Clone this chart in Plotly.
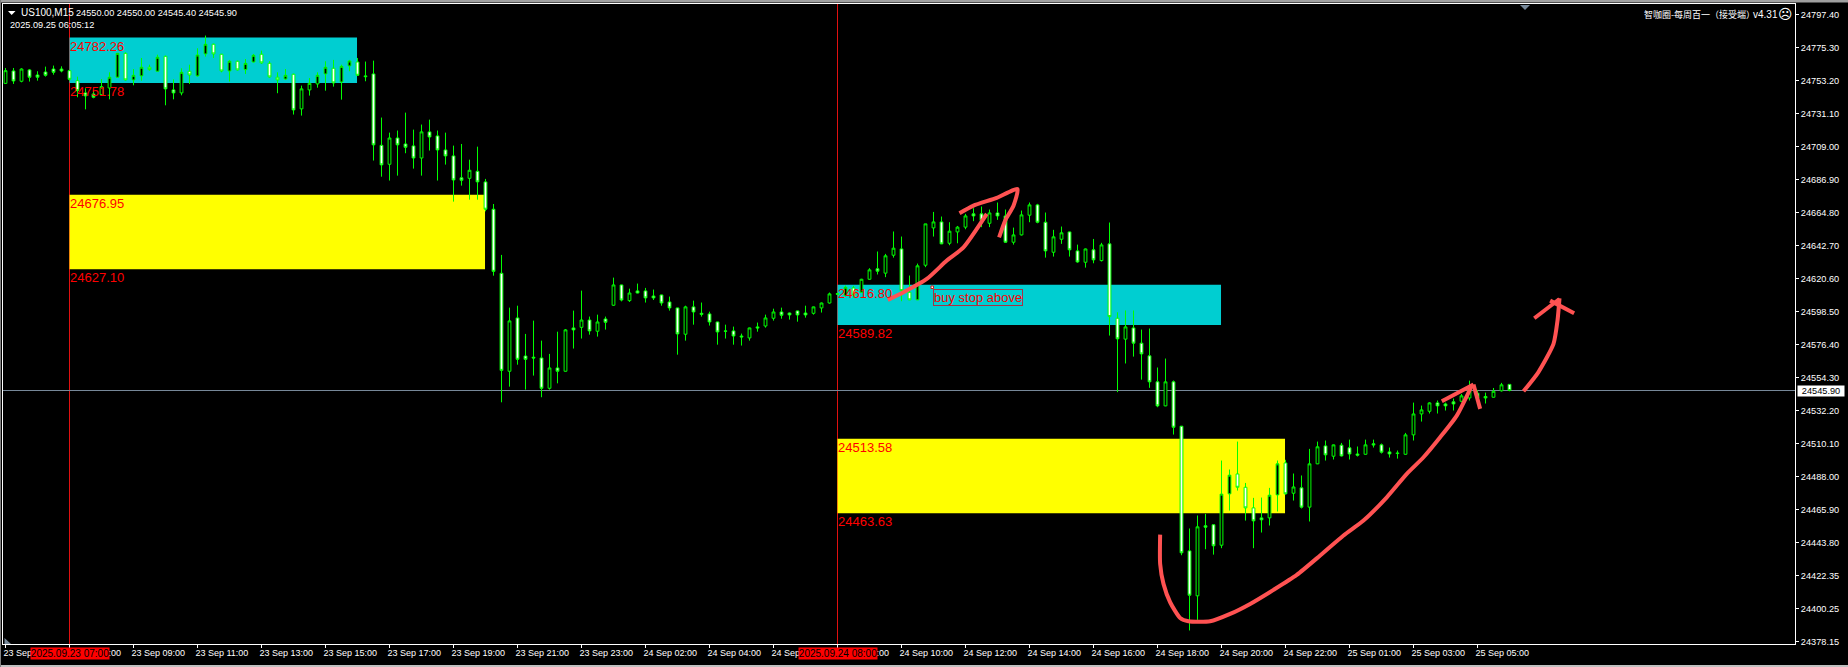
import plotly.graph_objects as go

open_prices = [
24751.6,24759.9,24753.0,24760.6,24757.2,24759.2,24761.2,24761.2,24760.1,24753.4,
24745.2,24744.5,24744.1,24748.5,24755.7,24771.7,24753.9,24756.6,24762.4,24759.7,
24769.7,24747.2,24745.2,24759.7,24756.6,24771.3,24777.8,24771.1,24759.9,24766.4,
24760.8,24765.9,24771.1,24765.0,24755.7,24754.5,24757.7,24734.5,24747.2,24751.2,
24757.9,24761.7,24752.5,24763.3,24765.9,24756.6,24757.9,24710.1,24697.4,24715.0,
24711.0,24709.7,24701.6,24719.1,24716.4,24707.0,24703.0,24688.3,24688.0,24692.7,
24685.6,24667.3,24624.4,24558.8,24594.5,24569.0,24568.2,24567.7,24547.4,24561.0,
24558.8,24587.8,24588.2,24593.1,24585.6,24593.8,24603.0,24616.6,24606.1,24612.6,
24612.6,24609.2,24609.9,24605.2,24601.2,24583.6,24601.9,24597.6,24597.2,24591.8,
24585.8,24585.8,24582.4,24581.1,24588.5,24589.1,24594.3,24598.5,24597.8,24599.2,
24597.8,24597.6,24601.2,24604.5,24610.8,24609.5,24614.6,24611.7,24620.4,24627.4,
24624.5,24636.5,24640.7,24611.7,24606.6,24629.8,24654.8,24658.8,24644.5,24652.1,
24655.3,24664.2,24664.2,24657.9,24664.8,24662.8,24645.2,24650.1,24663.3,24670.2,
24658.6,24638.5,24647.2,24652.1,24639.4,24631.8,24640.1,24632.9,24644.1,24594.3,
24580.3,24587.8,24577.6,24569.1,24551.7,24535.6,24551.7,24522.0,24438.5,24408.4,
24455.3,24456.0,24442.3,24476.7,24490.0,24481.1,24467.3,24460.6,24460.6,24476.0,
24497.4,24477.1,24480.7,24467.8,24496.8,24508.8,24501.9,24509.3,24507.5,24503.4,
24503.2,24510.2,24509.5,24504.8,24504.1,24503.2,24516.2,24530.2,24532.0,24537.6,
24536.9,24538.3,24538.7,24540.9,24544.1,24541.9,24541.4,24545.7,24550.0]

high_prices = [
24761.9,24761.9,24761.7,24761.2,24759.7,24762.8,24763.5,24763.0,24760.8,24756.1,
24748.3,24747.2,24754.5,24759.0,24771.7,24772.4,24761.2,24768.6,24764.1,24770.8,
24770.2,24754.3,24761.7,24764.1,24775.1,24783.6,24778.2,24771.3,24767.3,24766.8,
24767.9,24771.3,24773.5,24766.4,24759.0,24761.2,24758.1,24750.1,24755.2,24759.0,
24766.4,24767.3,24764.1,24767.3,24768.6,24766.2,24766.8,24728.7,24718.6,24720.0,
24732.0,24720.6,24724.0,24727.3,24720.0,24718.6,24709.9,24711.0,24700.5,24709.2,
24687.6,24670.8,24636.7,24601.4,24602.7,24583.8,24592.7,24579.3,24570.4,24585.3,
24587.1,24599.4,24612.8,24595.4,24596.7,24595.4,24621.5,24616.8,24614.1,24617.5,
24614.6,24613.5,24610.1,24608.8,24601.4,24602.7,24606.1,24604.8,24598.7,24592.0,
24590.0,24588.7,24584.0,24588.0,24591.4,24596.7,24600.7,24601.4,24598.1,24599.4,
24602.7,24602.1,24604.8,24611.5,24611.5,24616.2,24616.0,24620.7,24627.8,24639.0,
24637.4,24652.4,24649.0,24622.9,24630.9,24657.5,24665.5,24662.4,24658.6,24656.1,
24664.2,24668.0,24669.1,24667.1,24671.8,24667.1,24655.0,24666.4,24671.8,24670.9,
24665.1,24653.5,24655.7,24652.4,24643.6,24641.0,24647.4,24644.8,24658.4,24598.3,
24599.5,24599.5,24586.7,24587.4,24561.3,24567.3,24552.6,24522.2,24453.5,24462.2,
24463.3,24456.2,24499.0,24493.0,24511.7,24484.0,24474.0,24474.2,24480.7,24499.0,
24499.5,24490.3,24489.0,24506.8,24511.7,24512.4,24509.7,24510.8,24513.0,24508.4,
24513.0,24513.0,24510.4,24507.7,24505.7,24517.5,24537.8,24535.8,24538.0,24539.2,
24537.8,24540.5,24543.6,24552.5,24546.3,24544.5,24547.6,24551.0,24550.0]

low_prices = [
24751.2,24751.2,24752.3,24752.8,24753.4,24756.1,24757.4,24759.0,24753.4,24742.3,
24734.2,24741.6,24743.4,24740.9,24755.2,24753.4,24750.3,24753.4,24760.1,24759.5,
24736.9,24740.9,24743.6,24751.2,24756.1,24769.5,24768.6,24759.0,24752.8,24760.1,
24757.9,24765.5,24764.6,24755.4,24745.0,24753.9,24730.7,24730.0,24743.4,24748.7,
24746.7,24749.4,24740.7,24759.7,24756.6,24753.0,24699.9,24689.1,24686.5,24689.8,
24704.8,24694.5,24689.8,24706.6,24686.5,24697.2,24672.4,24683.1,24673.7,24673.7,
24665.9,24622.8,24538.0,24548.5,24563.2,24546.5,24555.9,24541.4,24546.5,24550.7,
24558.6,24574.0,24580.7,24583.3,24582.0,24586.7,24602.7,24605.6,24605.2,24611.0,
24604.8,24606.5,24602.7,24599.4,24569.9,24579.3,24590.0,24595.4,24589.4,24576.6,
24580.7,24576.6,24576.0,24579.3,24585.3,24588.0,24592.7,24594.0,24593.4,24592.0,
24594.7,24596.7,24598.1,24604.1,24609.9,24608.8,24607.9,24611.3,24620.0,24623.6,
24621.8,24634.9,24605.7,24606.4,24606.4,24628.5,24649.0,24643.9,24643.2,24644.5,
24653.9,24659.3,24655.3,24655.3,24660.2,24644.8,24643.6,24649.7,24658.6,24657.9,
24634.9,24635.6,24644.1,24635.6,24631.4,24628.2,24631.1,24632.3,24582.7,24544.8,
24564.0,24568.6,24553.2,24547.7,24534.7,24535.4,24516.4,24435.6,24385.2,24392.3,
24439.6,24436.0,24440.3,24465.5,24478.9,24458.8,24440.3,24450.8,24455.5,24464.9,
24476.2,24472.2,24466.9,24458.2,24496.6,24499.0,24499.7,24501.7,24499.7,24501.7,
24503.0,24507.7,24503.7,24501.0,24500.3,24503.0,24512.4,24525.1,24530.5,24530.5,
24532.5,24532.5,24538.0,24539.2,24540.3,24537.2,24541.2,24545.2,24545.4]

close_prices = [
24760.1,24753.2,24761.2,24755.7,24755.7,24757.0,24759.0,24759.9,24754.3,24746.7,
24743.2,24742.3,24749.4,24755.7,24771.7,24753.9,24757.0,24762.4,24760.8,24769.1,
24747.9,24745.2,24759.0,24757.2,24770.6,24777.8,24771.3,24759.9,24766.4,24760.6,
24765.0,24770.4,24765.3,24755.9,24753.9,24757.0,24733.8,24747.9,24751.6,24757.0,
24762.4,24751.9,24763.0,24766.6,24757.0,24756.1,24710.4,24697.0,24715.0,24710.4,
24708.8,24701.6,24719.1,24715.7,24707.0,24703.0,24686.9,24686.7,24693.4,24685.6,
24667.3,24625.7,24559.4,24592.5,24566.8,24566.8,24567.7,24547.4,24561.0,24558.8,
24586.5,24586.5,24593.1,24585.8,24591.8,24591.6,24616.6,24606.5,24611.2,24611.2,
24607.9,24607.9,24604.5,24601.2,24583.8,24601.9,24598.5,24596.9,24591.8,24585.1,
24585.6,24582.4,24581.8,24587.8,24587.8,24594.5,24598.5,24596.3,24596.5,24596.5,
24596.5,24601.9,24604.5,24610.6,24610.4,24615.1,24609.7,24620.4,24626.7,24625.8,
24636.1,24641.2,24612.8,24606.6,24629.4,24657.5,24658.8,24644.1,24652.6,24655.3,
24662.8,24662.8,24659.7,24664.8,24662.8,24645.2,24650.1,24663.5,24670.2,24658.6,
24639.4,24648.8,24651.5,24640.1,24632.0,24640.7,24633.4,24643.4,24595.4,24580.5,
24588.5,24577.6,24570.4,24551.7,24535.6,24551.7,24521.3,24437.2,24408.8,24454.6,
24454.4,24441.9,24476.5,24489.2,24481.1,24467.3,24458.6,24459.3,24475.8,24496.8,
24476.7,24481.3,24467.8,24496.8,24508.2,24502.8,24509.5,24502.1,24503.4,24502.6,
24509.5,24509.5,24504.6,24503.4,24503.7,24516.2,24530.2,24532.9,24537.6,24535.6,
24535.6,24536.9,24542.3,24547.6,24540.9,24540.9,24545.4,24549.7,24545.9]

x_tick_bars = [0,8,16,24,32,40,48,56,64,72,80,88,96,104,112,120,128,136,144,152,160,168,176,184]
x_tick_labels = ["23 Sep 05:00","23 Sep 07:00","23 Sep 09:00","23 Sep 11:00","23 Sep 13:00","23 Sep 15:00",
    "23 Sep 17:00","23 Sep 19:00","23 Sep 21:00","23 Sep 23:00","24 Sep 02:00","24 Sep 04:00","24 Sep 06:00",
    "24 Sep 08:00","24 Sep 10:00","24 Sep 12:00","24 Sep 14:00","24 Sep 16:00","24 Sep 18:00","24 Sep 20:00",
    "24 Sep 22:00","25 Sep 01:00","25 Sep 03:00","25 Sep 05:00"]
y_tick_values = [24797.4,24775.3,24753.2,24731.1,24709.0,24686.9,24664.8,24642.7,24620.6,24598.5,
    24576.4,24554.3,24532.2,24510.1,24488.0,24465.9,24443.8,24421.7,24399.6,24377.5]
y_tick_labels = ["24797.40","24775.30","24753.20","24731.10","24709.00","24686.90","24664.80","24642.70",
    "24620.60","24598.50","24576.40","24554.30","24532.20","24510.10","24488.00","24465.90","24443.80",
    "24422.35","24400.25","24378.15"]

zone_start = [8, 8, 104, 104]
zone_end = [43.94, 59.94, 151.94, 159.94]
zone_top = [24782.26, 24676.95, 24616.80, 24513.58]
zone_bottom = [24751.78, 24627.10, 24589.82, 24463.63]
zone_color = ["#00CED1", "#FFFF00", "#00CED1", "#FFFF00"]
zone_top_text = ["24782.26", "24676.95", "24616.80", "24513.58"]
zone_bottom_text = ["24751.78", "24627.10", "24589.82", "24463.63"]

vline_bars = [8, 104]
vline_labels = ["2025.09.23 07:00", "2025.09.24 08:00"]
last_price = 24545.90

strokes = [
    ([110.29,112.25,115.16,117.66,119.75,122.66], [24606.6,24611.7,24620.6,24632.9,24641.8,24664.2]),
    ([119.25,121.0,123.9,126.5,126.0,124.96,124.2], [24664.6,24669.7,24674.9,24680.9,24669.7,24659.7,24648.5]),
    ([144.33,144.33,144.75,145.58,146.83,147.87,150.58,153.08,155.58,158.5,161.41,164.33,167.25,169.75,172.66,175.16,177.25,179.33,181.41,183.29],
     [24449.4,24429.8,24416.4,24404.1,24393.6,24391.4,24391.4,24396.3,24403.0,24412.4,24422.4,24435.4,24448.8,24458.8,24474.4,24490.1,24501.2,24514.6,24529.1,24549.2]),
    ([179.54,183.5], [24538.7,24549.9]),
    ([183.5,184.33], [24549.9,24533.6]),
    ([189.75,191.6,193.5,194.0,194.25], [24545.4,24558.1,24577.1,24592.7,24607.7]),
    ([191.1,194.25], [24594.3,24607.2]),
    ([193.08,196.08], [24606.1,24597.6]),
]

W, H = 1848, 667
L, R, T, B = 3, 1795, 4, 644
BAR0 = 5.5
px = lambda v: (v - L) / (R - L)
py = lambda v: (B - v) / (B - T)
TICK_FONT = "Liberation Sans, Arial, sans-serif"
ARIAL = "Liberation Sans, Arial, sans-serif"
STROKE = "#FF5252"
GREEN = "#00FF00"

fig = go.Figure()
fig.add_trace(go.Candlestick(
    x=list(range(len(open_prices))), open=open_prices, high=high_prices, low=low_prices, close=close_prices,
    increasing=dict(fillcolor="#000000", line=dict(color=GREEN, width=1)),
    decreasing=dict(fillcolor="#FFFFFF", line=dict(color=GREEN, width=1)),
    whiskerwidth=0, hoverinfo="skip", showlegend=False))
for sx, sy in strokes:
    fig.add_trace(go.Scatter(x=sx, y=sy, mode="lines", hoverinfo="skip", showlegend=False,
                             line=dict(color=STROKE, width=4, shape="spline", smoothing=0.6)))

shapes, ann = [], []
for s, e, t, b, c in zip(zone_start, zone_end, zone_top, zone_bottom, zone_color):
    shapes.append(dict(type="rect", xref="x", yref="y", x0=s, x1=e, y0=b, y1=t, fillcolor=c, line_width=0, layer="below"))
for v in vline_bars:
    shapes.append(dict(type="line", xref="x", yref="paper", x0=v, x1=v, y0=0, y1=1, line=dict(color="#E01010", width=1), layer="below"))
shapes.append(dict(type="line", xref="paper", yref="y", x0=0, x1=1, y0=last_price, y1=last_price, line=dict(color="#778899", width=1), layer="below"))
shapes.append(dict(type="rect", xref="paper", yref="paper", x0=px(0), x1=px(W), y0=py(0), y1=py(2.5), fillcolor="#A0A0A0", line_width=0))
shapes.append(dict(type="rect", xref="paper", yref="paper", x0=px(0), x1=px(W), y0=py(665), y1=py(667), fillcolor="#C0C0C0", line_width=0))
shapes.append(dict(type="rect", xref="paper", yref="paper", x0=px(0), x1=px(1), y0=py(0), y1=py(667), fillcolor="#808080", line_width=0))
def tri(a, b, c):
    pts = [a, b, c]
    return "M" + " L".join(f"{px(p[0]):.5f},{py(p[1]):.5f}" for p in pts) + " Z"
shapes.append(dict(type="path", xref="paper", yref="paper", path=tri((1520,5),(1530,5),(1525,10)), fillcolor="#778899", line_width=0))
shapes.append(dict(type="path", xref="paper", yref="paper", path=tri((4.5,638),(4.5,644),(11,644)), fillcolor="#778899", line_width=0))
shapes.append(dict(type="path", xref="paper", yref="paper", path=tri((8,11),(15.5,11),(11.7,15)), fillcolor="#FFFFFF", line_width=0))
shapes.append(dict(type="rect", xref="paper", yref="paper", x0=px(931), x1=px(933.5), y0=py(288.5), y1=py(286), fillcolor="#FFFFFF", line=dict(color="#E01010", width=1)))

for s, t, b, tt, bt in zip(zone_start, zone_top, zone_bottom, zone_top_text, zone_bottom_text):
    for val, txt in ((t, tt), (b, bt)):
        ann.append(dict(xref="x", yref="y", x=s, y=val, text=txt, showarrow=False, xanchor="left", yanchor="top",
                        font=dict(family=ARIAL, size=13, color="#FF0000"), borderpad=0, xshift=-1, yshift=0))
ann.append(dict(xref="x", yref="y", x=116, y=24614.2, text="buy stop above", showarrow=False, xanchor="left", yanchor="top",
                font=dict(family=ARIAL, size=13, color="#FF0000"), bordercolor="#A83244", borderwidth=1, borderpad=0, xshift=-1))
for v, t in zip(vline_bars, vline_labels):
    ann.append(dict(xref="x", yref="paper", x=v, y=py(653.5), text=t, showarrow=False, xanchor="center", yanchor="middle",
                    font=dict(family=TICK_FONT, size=10, color="#000000"), bgcolor="#FF0000", width=78, height=11, borderpad=0, align="center"))
def label(x, y, text, anchor="left", size=9.2, family=TICK_FONT, color="#FFFFFF", **kw):
    ann.append(dict(xref="paper", yref="paper", x=px(x), y=py(y), text=text, showarrow=False, xanchor=anchor, yanchor="middle",
                    font=dict(family=family, size=size, color=color), borderpad=0, **kw))
label(20, 12.5, "US100,M15", size=10)
label(75, 12.5, "24550.00 24550.00 24545.40 24545.90")
label(9, 25.5, "2025.09.25 06:05:12")
label(1643, 14, "智咖圈-每周百一（接受端）", size=9, family="Noto Sans CJK SC")
label(1752, 14, "v4.31", size=10)
label(1785, 14, "☹", anchor="center", size=14, family="DejaVu Sans")
ann.append(dict(xref="paper", yref="y", x=px(1797), y=last_price, text="24545.90", showarrow=False, xanchor="left", yanchor="middle",
                font=dict(family=TICK_FONT, size=9.2, color="#000000"), bgcolor="#FFFFFF", width=46, height=10, borderpad=0, align="center"))

fig.update_layout(
    width=W, height=H, margin=dict(l=L, r=W - R, t=T, b=H - B, pad=0),
    paper_bgcolor="#000000", plot_bgcolor="#000000", showlegend=False, boxgap=0.5, dragmode=False,
    shapes=shapes, annotations=ann,
    xaxis=dict(range=[(L - BAR0) / 8, (R - BAR0) / 8], rangeslider=dict(visible=False), showgrid=False, zeroline=False,
               tickmode="array", tickvals=x_tick_bars, ticktext=x_tick_labels, ticks="outside", ticklen=3, tickcolor="#FFFFFF",
               showline=True, mirror=True, linecolor="#FFFFFF", linewidth=1, ticklabelposition="outside right", ticklabelshift=-3,
               tickangle=0, tickfont=dict(family=TICK_FONT, size=9, color="#FFFFFF")),
    yaxis=dict(range=[24376.14, 24804.74], side="right", showgrid=False, zeroline=False,
               tickmode="array", tickvals=y_tick_values, ticktext=y_tick_labels, ticks="outside", ticklen=3, tickcolor="#FFFFFF",
               showline=True, mirror=True, linecolor="#FFFFFF", linewidth=1,
               tickfont=dict(family=TICK_FONT, size=9.2, color="#FFFFFF")),
)
fig.write_html("out.html", config=dict(displayModeBar=False, responsive=False),
               post_script="document.body.style.margin='0';document.body.style.background='#000';document.body.style.overflow='hidden';")
